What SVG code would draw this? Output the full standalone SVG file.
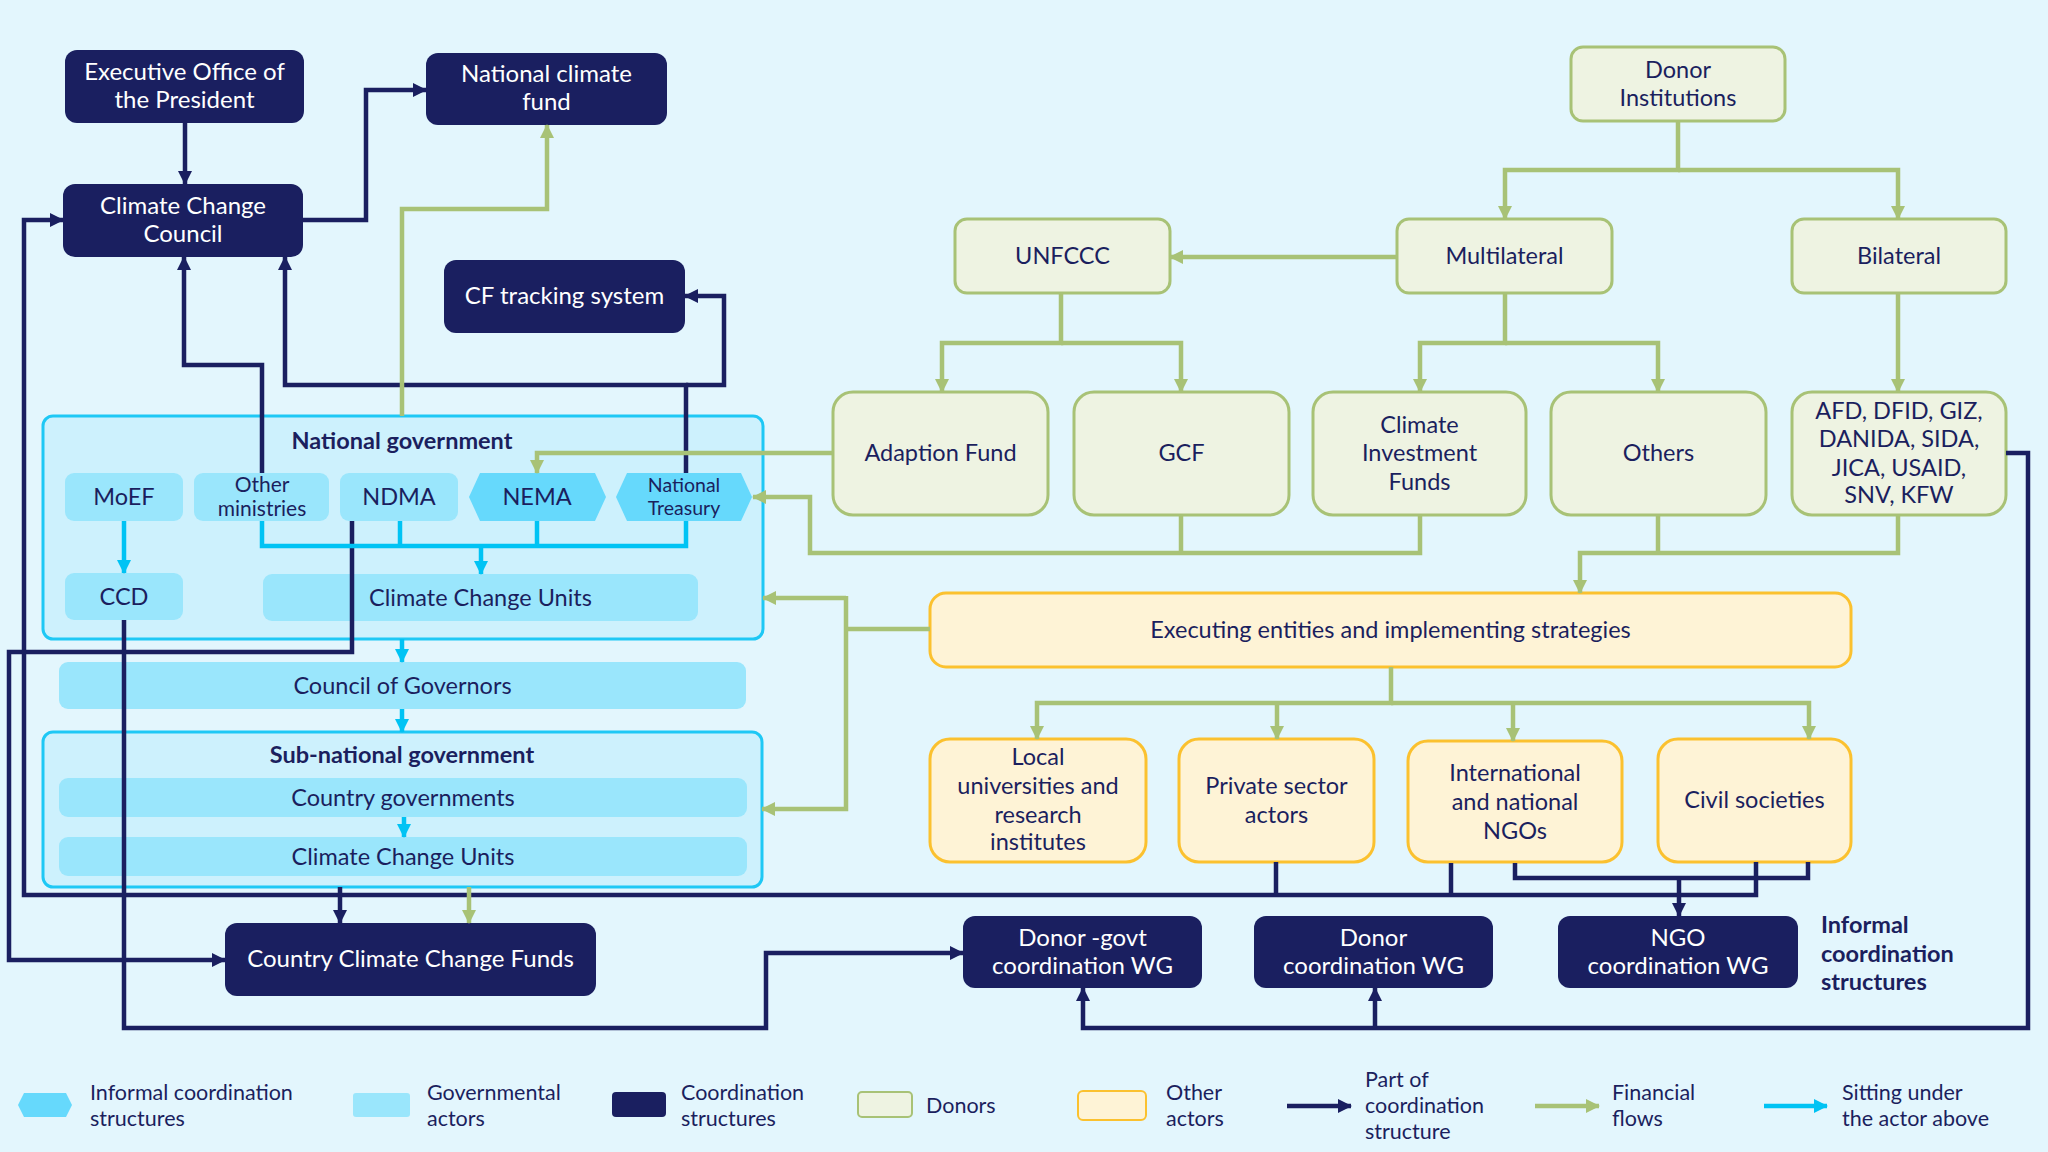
<svg xmlns="http://www.w3.org/2000/svg" width="2048" height="1152" viewBox="0 0 2048 1152">
<defs>
<style>
text{font-family:Lato,"Liberation Sans",sans-serif;font-size:23.5px;fill:#1b1f5e;text-anchor:middle}
.w{fill:#ffffff;font-size:24px}
.b{font-weight:bold}
.sm{font-size:21px}
.xs{font-size:19.5px}
.lg{font-size:21.5px;text-anchor:start}
.lb{font-size:23.5px;text-anchor:start;font-weight:bold}
.navy{fill:#1a1f60}
.gov{fill:#9ae6fc}
.hex{fill:#66d9fc}
.grp{fill:#cdf1fd;stroke:#1ec8f5;stroke-width:3}
.don{fill:#eef3e2;stroke:#a8c276;stroke-width:3}
.oth{fill:#fef3d6;stroke:#fbc12f;stroke-width:3}
.cn{fill:none;stroke:#1a1f60;stroke-width:4.5}
.cg{fill:none;stroke:#a8c276;stroke-width:4.5}
.cc{fill:none;stroke:#00c3f4;stroke-width:4.5}
</style>
<marker id="an" viewBox="0 0 14 14" refX="13" refY="7" markerWidth="14" markerHeight="14" markerUnits="userSpaceOnUse" orient="auto"><path d="M0,0 L14,7 L0,14 z" fill="#1a1f60"/></marker>
<marker id="ag" viewBox="0 0 14 14" refX="13" refY="7" markerWidth="14" markerHeight="14" markerUnits="userSpaceOnUse" orient="auto"><path d="M0,0 L14,7 L0,14 z" fill="#a8c276"/></marker>
<marker id="ac" viewBox="0 0 14 14" refX="13" refY="7" markerWidth="14" markerHeight="14" markerUnits="userSpaceOnUse" orient="auto"><path d="M0,0 L14,7 L0,14 z" fill="#00c3f4"/></marker>
</defs>
<rect width="2048" height="1152" fill="#e3f6fd"/>

<!-- group containers -->
<g id="national-government">
<rect class="grp" x="43" y="416" width="720" height="223" rx="10"/>
<text class="b" x="402" y="449">National government</text>
</g>
<g id="sub-national-government">
<rect class="grp" x="43" y="732" width="719" height="155" rx="10"/>
<text class="b" x="402" y="763">Sub-national government</text>
</g>

<!-- coordination structures -->
<g id="executive-office"><rect class="navy" x="65" y="50" width="239" height="73" rx="12"/><text class="w" x="184.5" y="80">Executive Office of</text><text class="w" x="184.5" y="108">the President</text></g>
<g id="national-climate-fund"><rect class="navy" x="426" y="53" width="241" height="72" rx="12"/><text class="w" x="546.5" y="82">National climate</text><text class="w" x="546.5" y="110">fund</text></g>
<g id="climate-change-council"><rect class="navy" x="63" y="184" width="240" height="73" rx="12"/><text class="w" x="183" y="214">Climate Change</text><text class="w" x="183" y="242">Council</text></g>
<g id="cf-tracking"><rect class="navy" x="444" y="260" width="241" height="73" rx="12"/><text class="w" x="564.5" y="304">CF tracking system</text></g>
<g id="country-ccf"><rect class="navy" x="225" y="923" width="371" height="73" rx="12"/><text class="w" x="410.5" y="967">Country Climate Change Funds</text></g>
<g id="donor-govt-wg"><rect class="navy" x="963" y="916" width="239" height="72" rx="12"/><text class="w" x="1082.5" y="946">Donor -govt</text><text class="w" x="1082.5" y="974">coordination WG</text></g>
<g id="donor-wg"><rect class="navy" x="1254" y="916" width="239" height="72" rx="12"/><text class="w" x="1373.5" y="946">Donor</text><text class="w" x="1373.5" y="974">coordination WG</text></g>
<g id="ngo-wg"><rect class="navy" x="1558" y="916" width="240" height="72" rx="12"/><text class="w" x="1678" y="946">NGO</text><text class="w" x="1678" y="974">coordination WG</text></g>
<g id="informal-label"><text class="lb" x="1821" y="933">Informal</text><text class="lb" x="1821" y="962">coordination</text><text class="lb" x="1821" y="990">structures</text></g>

<!-- governmental actors -->
<g id="moef"><rect class="gov" x="65" y="473" width="118" height="48" rx="9"/><text x="124" y="505">MoEF</text></g>
<g id="other-ministries"><rect class="gov" x="194" y="473" width="135" height="48" rx="9"/><text class="sm" x="262" y="492">Other</text><text class="sm" x="262" y="516">ministries</text></g>
<g id="ndma"><rect class="gov" x="340" y="473" width="118" height="48" rx="9"/><text x="399" y="505">NDMA</text></g>
<g id="nema"><polygon class="hex" points="469,497 480,473 595,473 606,497 595,521 480,521"/><text x="537" y="505">NEMA</text></g>
<g id="national-treasury"><polygon class="hex" points="616,497 627,473 741,473 752,497 741,521 627,521"/><text class="xs" x="684" y="492">National</text><text class="xs" x="684" y="515">Treasury</text></g>
<g id="ccd"><rect class="gov" x="65" y="573" width="118" height="47" rx="9"/><text x="124" y="605">CCD</text></g>
<g id="ccu-national"><rect class="gov" x="263" y="574" width="435" height="47" rx="9"/><text x="480.5" y="606">Climate Change Units</text></g>
<g id="council-of-governors"><rect class="gov" x="59" y="662" width="687" height="47" rx="9"/><text x="402.5" y="694">Council of Governors</text></g>
<g id="country-governments"><rect class="gov" x="59" y="778" width="688" height="39" rx="9"/><text x="403" y="806">Country governments</text></g>
<g id="ccu-sub"><rect class="gov" x="59" y="837" width="688" height="39" rx="9"/><text x="403" y="865">Climate Change Units</text></g>

<!-- donors -->
<g id="donor-institutions"><rect class="don" x="1571" y="47" width="214" height="74" rx="12"/><text x="1678" y="78">Donor</text><text x="1678" y="106">Institutions</text></g>
<g id="unfccc"><rect class="don" x="955" y="219" width="215" height="74" rx="12"/><text x="1062.5" y="264">UNFCCC</text></g>
<g id="multilateral"><rect class="don" x="1397" y="219" width="215" height="74" rx="12"/><text x="1504.5" y="264">Multilateral</text></g>
<g id="bilateral"><rect class="don" x="1792" y="219" width="214" height="74" rx="12"/><text x="1899" y="264">Bilateral</text></g>
<g id="adaption-fund"><rect class="don" x="833" y="392" width="215" height="123" rx="20"/><text x="940.5" y="461">Adaption Fund</text></g>
<g id="gcf"><rect class="don" x="1074" y="392" width="215" height="123" rx="20"/><text x="1181.5" y="461">GCF</text></g>
<g id="cif"><rect class="don" x="1313" y="392" width="213" height="123" rx="20"/><text x="1419.5" y="433">Climate</text><text x="1419.5" y="461">Investment</text><text x="1419.5" y="490">Funds</text></g>
<g id="others"><rect class="don" x="1551" y="392" width="215" height="123" rx="20"/><text x="1658.5" y="461">Others</text></g>
<g id="bilateral-donors"><rect class="don" x="1792" y="392" width="214" height="123" rx="20"/><text x="1899" y="419">AFD, DFID, GIZ,</text><text x="1899" y="447">DANIDA, SIDA,</text><text x="1899" y="476">JICA, USAID,</text><text x="1899" y="503">SNV, KFW</text></g>

<!-- other actors -->
<g id="executing-entities"><rect class="oth" x="930" y="593" width="921" height="74" rx="16"/><text x="1390.5" y="638">Executing entities and implementing strategies</text></g>
<g id="local-universities"><rect class="oth" x="930" y="739" width="216" height="123" rx="20"/><text x="1038" y="765">Local</text><text x="1038" y="794">universities and</text><text x="1038" y="823">research</text><text x="1038" y="850">institutes</text></g>
<g id="private-sector"><rect class="oth" x="1179" y="739" width="195" height="123" rx="20"/><text x="1276.5" y="794">Private sector</text><text x="1276.5" y="823">actors</text></g>
<g id="ngos"><rect class="oth" x="1408" y="741" width="214" height="121" rx="20"/><text x="1515" y="781">International</text><text x="1515" y="810">and national</text><text x="1515" y="839">NGOs</text></g>
<g id="civil-societies"><rect class="oth" x="1658" y="739" width="193" height="123" rx="20"/><text x="1754.5" y="808">Civil societies</text></g>

<g id="connectors">
<!-- navy -->
<path class="cn" d="M185,123 V184" marker-end="url(#an)"/>
<path class="cn" d="M303,220 H366 V90 H426" marker-end="url(#an)"/>
<path class="cn" d="M262,473 V365 H184 V257" marker-end="url(#an)"/>
<path class="cn" d="M686,473 V385 H285 V257" marker-end="url(#an)"/>
<path class="cn" d="M686,385 H724 V296 H685" marker-end="url(#an)"/>
<path class="cn" d="M352,521 V652 H9 V960 H225" marker-end="url(#an)"/>
<path class="cn" d="M1756,862 V895 H24 V220 H63" marker-end="url(#an)"/>
<path class="cn" d="M1276,862 V895"/>
<path class="cn" d="M1451,863 V895"/>
<path class="cn" d="M1515,863 V878 H1808 V862"/>
<path class="cn" d="M1679,878 V916" marker-end="url(#an)"/>
<path class="cn" d="M340,887 V923" marker-end="url(#an)"/>
<path class="cn" d="M124,620 V1028 H766 V953 H963" marker-end="url(#an)"/>
<path class="cn" d="M2006,453 H2028 V1028 H1083 V988" marker-end="url(#an)"/>
<path class="cn" d="M1375,1028 V988" marker-end="url(#an)"/>
<!-- green -->
<path class="cg" d="M402,416 V209 H547 V125" marker-end="url(#ag)"/>
<path class="cg" d="M1678,121 V170 H1505 V219" marker-end="url(#ag)"/>
<path class="cg" d="M1678,170 H1898 V219" marker-end="url(#ag)"/>
<path class="cg" d="M1397,257 H1170" stroke-width="6" marker-end="url(#ag)"/>
<path class="cg" d="M1061,293 V343 H942 V392" marker-end="url(#ag)"/>
<path class="cg" d="M1061,343 H1181 V392" marker-end="url(#ag)"/>
<path class="cg" d="M1505,293 V343 H1420 V392" marker-end="url(#ag)"/>
<path class="cg" d="M1505,343 H1658 V392" marker-end="url(#ag)"/>
<path class="cg" d="M1898,293 V392" marker-end="url(#ag)"/>
<path class="cg" d="M833,453 H537 V473" marker-end="url(#ag)"/>
<path class="cg" d="M1181,515 V553"/>
<path class="cg" d="M1420,515 V553 H810 V497 H753" marker-end="url(#ag)"/>
<path class="cg" d="M1658,515 V553"/>
<path class="cg" d="M1898,515 V553 H1580 V593" marker-end="url(#ag)"/>
<path class="cg" d="M930,629 H846"/>
<path class="cg" d="M846,598 H763" marker-end="url(#ag)"/>
<path class="cg" d="M846,596 V809 H762" marker-end="url(#ag)"/>
<path class="cg" d="M1391,667 V703 H1037 V739" marker-end="url(#ag)"/>
<path class="cg" d="M1391,703 H1809 V739" marker-end="url(#ag)"/>
<path class="cg" d="M1277,703 V739" marker-end="url(#ag)"/>
<path class="cg" d="M1513,703 V741" marker-end="url(#ag)"/>
<path class="cg" d="M469,887 V923" marker-end="url(#ag)"/>
<!-- cyan -->
<path class="cc" d="M124,521 V573" marker-end="url(#ac)"/>
<path class="cc" d="M262,521 V546 H686 V521"/>
<path class="cc" d="M400,521 V546"/>
<path class="cc" d="M537,521 V546"/>
<path class="cc" d="M481,546 V574" marker-end="url(#ac)"/>
<path class="cc" d="M402,639 V662" marker-end="url(#ac)"/>
<path class="cc" d="M402,709 V732" marker-end="url(#ac)"/>
<path class="cc" d="M404,817 V837" marker-end="url(#ac)"/>
</g>

<!-- legend -->
<g id="legend">
<polygon class="hex" points="18,1105 24,1093 66,1093 72,1105 66,1117 24,1117"/>
<text class="lg" x="90" y="1100">Informal coordination</text><text class="lg" x="90" y="1126">structures</text>
<rect class="gov" x="353" y="1093" width="57" height="24" rx="3"/>
<text class="lg" x="427" y="1100">Governmental</text><text class="lg" x="427" y="1126">actors</text>
<rect class="navy" x="612" y="1092" width="54" height="25" rx="4"/>
<text class="lg" x="681" y="1100">Coordination</text><text class="lg" x="681" y="1126">structures</text>
<rect x="858" y="1092" width="54" height="25" rx="4" fill="#eef3e2" stroke="#a8c276" stroke-width="2"/>
<text class="lg" x="926" y="1113">Donors</text>
<rect x="1078" y="1091" width="68" height="29" rx="5" fill="#fef3d6" stroke="#fbc12f" stroke-width="2"/>
<text class="lg" x="1166" y="1100">Other</text><text class="lg" x="1166" y="1126">actors</text>
<path class="cn" d="M1287,1106 H1351" marker-end="url(#an)"/>
<text class="lg" x="1365" y="1087">Part of</text><text class="lg" x="1365" y="1113">coordination</text><text class="lg" x="1365" y="1139">structure</text>
<path class="cg" d="M1535,1106 H1599" marker-end="url(#ag)"/>
<text class="lg" x="1612" y="1100">Financial</text><text class="lg" x="1612" y="1126">flows</text>
<path class="cc" d="M1764,1106 H1827" marker-end="url(#ac)"/>
<text class="lg" x="1842" y="1100">Sitting under</text><text class="lg" x="1842" y="1126">the actor above</text>
</g>
</svg>
